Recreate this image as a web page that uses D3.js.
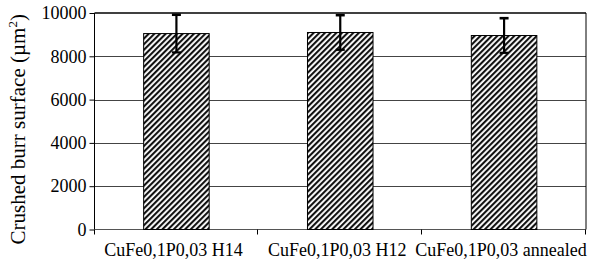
<!DOCTYPE html>
<html><head><meta charset="utf-8">
<script src="https://cdn.jsdelivr.net/npm/d3@7"></script>
<style>html,body{margin:0;padding:0;background:#fff;}svg{display:block;}</style>
</head><body>
<script>
const categories = ["CuFe0,1P0,03 H14", "CuFe0,1P0,03 H12", "CuFe0,1P0,03 annealed"];
const values = [9050, 9100, 8960];
const errors = [870, 800, 800];
const yTicks = [0, 2000, 4000, 6000, 8000, 10000];

const W = 589, H = 267;
const m = {left: 94.5, right: 3, top: 13, bottom: 37.5};
const svg = d3.select("body").append("svg").attr("width", W).attr("height", H);
const font = "'Liberation Serif', 'Times New Roman', serif";

const defs = svg.append("defs");
const pat = defs.append("pattern").attr("id", "hatch").attr("patternUnits", "userSpaceOnUse")
  .attr("width", 4).attr("height", 4).attr("patternTransform", "rotate(45)");
pat.append("rect").attr("width", 4).attr("height", 4).attr("fill", "#fff");
pat.append("rect").attr("x", 0).attr("y", 0).attr("width", 2.1).attr("height", 4).attr("fill", "#111");

const x = d3.scaleBand().domain(categories).range([m.left, W - m.right]).padding(0);
const y = d3.scaleLinear().domain([0, 10000]).range([H - m.bottom, m.top]);

// gridlines
svg.append("g").selectAll("line").data(yTicks.filter(d => d > 0 && d < 10000)).join("line")
  .attr("x1", m.left).attr("x2", W - m.right)
  .attr("y1", d => Math.round(y(d)) + 0.5).attr("y2", d => Math.round(y(d)) + 0.5)
  .attr("stroke", "#444").attr("stroke-width", 1);

// top border & right border
svg.append("line").attr("x1", m.left).attr("x2", W - m.right).attr("y1", y(10000)).attr("y2", y(10000))
  .attr("stroke", "#000").attr("stroke-width", 1.6);
svg.append("line").attr("x1", W - m.right).attr("x2", W - m.right).attr("y1", y(10000)).attr("y2", y(0))
  .attr("stroke", "#000").attr("stroke-width", 1);

// y axis
const yAxis = d3.axisLeft(y).tickValues(yTicks).tickSize(5).tickPadding(3).tickFormat(d3.format("d"));
const gy = svg.append("g").attr("transform", `translate(${m.left},0)`).call(yAxis);
gy.select(".domain").attr("stroke", "#000").attr("d", `M-0,${y(10000)}V${y(0)+5}`);
gy.selectAll(".tick line").attr("stroke", "#000");
gy.selectAll("text").attr("font-family", font).attr("font-size", 18).attr("fill", "#000");

// x axis
const gx = svg.append("g").attr("transform", `translate(0,${y(0)})`);
gx.append("line").attr("x1", m.left).attr("x2", W - m.right).attr("y1", 0).attr("y2", 0)
  .attr("stroke", "#555").attr("stroke-width", 1);
const bounds = categories.map(c => x(c)).concat([x(categories[2]) + x.bandwidth()]);
gx.selectAll("line.tk").data(bounds.slice(1)).join("line").attr("class", "tk")
  .attr("x1", d => Math.round(d) - 0.5).attr("x2", d => Math.round(d) - 0.5).attr("y1", 0).attr("y2", 5)
  .attr("stroke", "#000");
gx.selectAll("text").data(categories).join("text")
  .attr("x", d => x(d) + x.bandwidth() / 2 - 3).attr("y", 26)
  .attr("text-anchor", "middle").attr("font-family", font).attr("font-size", 18).attr("fill", "#000")
  .text(d => d);

// bars
const bw = x.bandwidth() * 0.4;
svg.append("g").selectAll("rect").data(categories).join("rect")
  .attr("x", d => x(d) + (x.bandwidth() - bw) / 2)
  .attr("y", (d, i) => y(values[i]))
  .attr("width", bw)
  .attr("height", (d, i) => y(0) - y(values[i]))
  .attr("fill", "url(#hatch)").attr("stroke", "#000").attr("stroke-width", 1);

// error bars
const eg = svg.append("g");
categories.forEach((c, i) => {
  const cx = x(c) + x.bandwidth() / 2;
  const yt = y(values[i] + errors[i]), yb = y(values[i] - errors[i]);
  eg.append("line").attr("x1", cx).attr("x2", cx).attr("y1", yt).attr("y2", yb).attr("stroke", "#000").attr("stroke-width", 2.2);
  eg.append("line").attr("x1", cx - 4.5).attr("x2", cx + 4.5).attr("y1", yt).attr("y2", yt).attr("stroke", "#000").attr("stroke-width", 2.6);
  eg.append("line").attr("x1", cx - 4.5).attr("x2", cx + 4.5).attr("y1", yb).attr("y2", yb).attr("stroke", "#000").attr("stroke-width", 2.2);
});

// y title
const t = svg.append("text").attr("transform", `translate(25,${(y(0) + y(10000)) / 2 + 8}) rotate(-90)`)
  .attr("text-anchor", "middle").attr("font-family", font).attr("font-size", 21).attr("fill", "#000");
t.append("tspan").text("Crushed burr surface (µm");
t.append("tspan").attr("font-size", 13).attr("dy", -8).text("2");
t.append("tspan").attr("dy", 8).text(")");
</script>
</body></html>
